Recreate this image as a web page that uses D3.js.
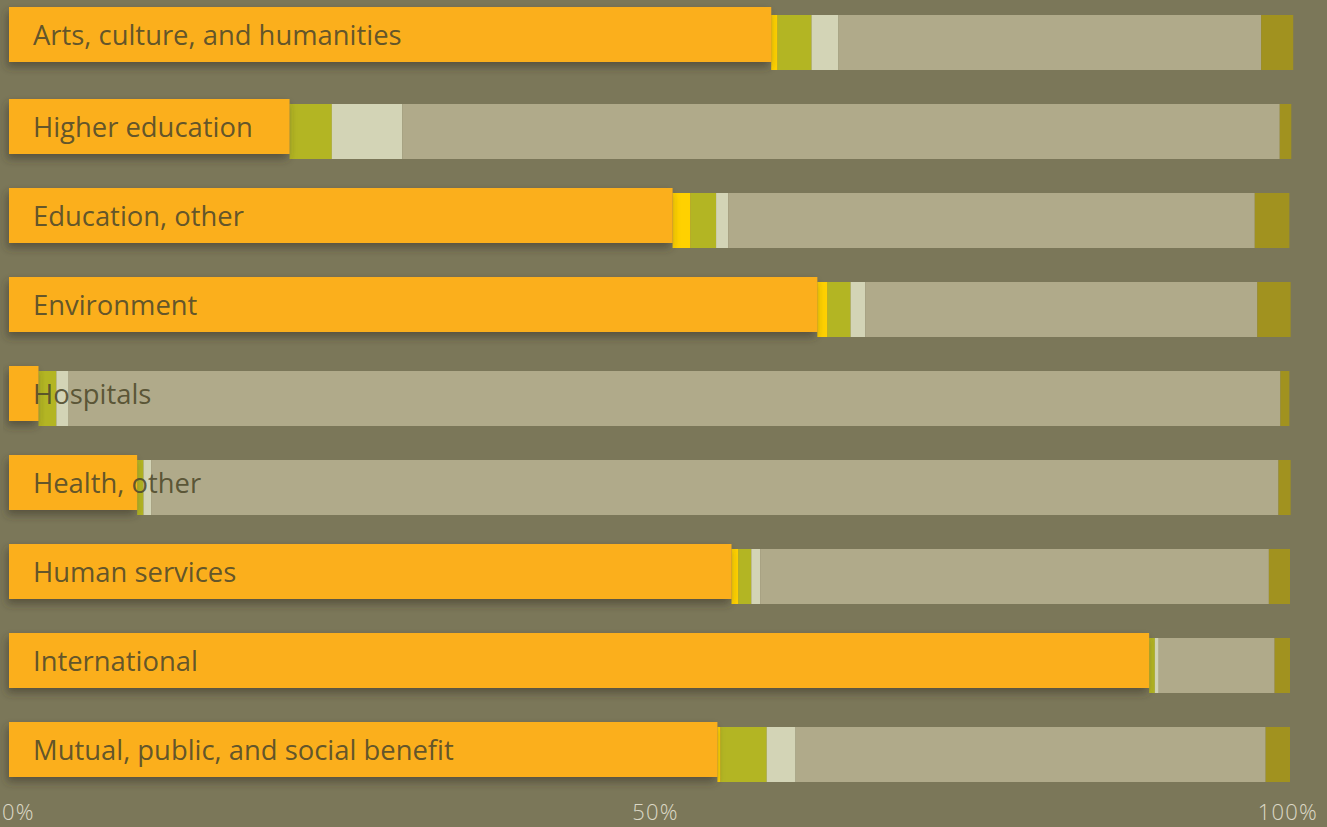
<!DOCTYPE html>
<html><head><meta charset="utf-8">
<script src="https://cdn.jsdelivr.net/npm/d3@7"></script>
<style>
html,body{margin:0;padding:0;background:#7b7759;}
svg{display:block;}
</style></head>
<body>
<svg id="chart" width="1327" height="827"></svg>
<script>
const categories = ["Arts, culture, and humanities","Higher education","Education, other","Environment","Hospitals","Health, other","Human services","International","Mutual, public, and social benefit"];
const seriesNames = ["s1","s2","s3","s4","s5","s6"];
const s1 = [59.5, 21.9, 51.8, 63.1, 2.3, 10.0, 56.4, 89.0, 55.3];
const s2 = [0.5, 0.0, 1.4, 0.8, 0.0, 0.0, 0.55, 0.0, 0.25];
const s3 = [2.65, 3.3, 2.0, 1.8, 1.4, 0.5, 1.0, 0.45, 3.6];
const s4 = [2.1, 5.5, 0.95, 1.15, 0.95, 0.6, 0.7, 0.3, 2.25];
const s5 = [33.0, 68.5, 41.1, 30.6, 94.6, 88.0, 39.7, 9.05, 36.7];
const s6 = [2.5, 0.9, 2.7, 2.6, 0.7, 0.95, 1.65, 1.2, 1.9];
const tickValues = [0, 50, 100];
const tickLabels = ["0%", "50%", "100%"];
const colors = ["#fbaf1a", "#ffd100", "#b3b523", "#d3d4b6", "#b0aa8a", "#a1921f"];

const series = [s1,s2,s3,s4,s5,s6];
const data = categories.map((c,i)=>{const o={cat:c}; seriesNames.forEach((s,j)=>o[s]=series[j][i]); return o;});

const svg = d3.select("#chart");
const x = d3.scaleLinear().domain([0,100]).range([9,1290]);
const y = d3.scaleBand().domain(categories).range([15,782]).paddingInner(34/89).paddingOuter(0);

const defs = svg.append("defs");
const f = defs.append("filter").attr("id","shadow").attr("x","-20%").attr("y","-30%").attr("width","140%").attr("height","180%");
f.append("feDropShadow").attr("dx",-2).attr("dy",5).attr("stdDeviation",4).attr("flood-color","#3a3526").attr("flood-opacity",0.55);

const stacked = d3.stack().keys(seriesNames)(data);

const g = svg.append("g");
stacked.slice(1).forEach((layer,k)=>{
  g.selectAll(null).data(layer).enter().append("rect")
    .attr("x", d=>x(d[0]))
    .attr("y", d=>y(d.data.cat))
    .attr("width", d=>Math.max(0,x(d[1])-x(d[0])))
    .attr("height", y.bandwidth())
    .attr("fill", colors[k+1]);
});

const offset = (i)=> i===0 ? -8 : -5;
svg.append("g").selectAll("rect").data(stacked[0]).enter().append("rect")
  .attr("x", d=>x(d[0]))
  .attr("y", (d,i)=>y(d.data.cat)+offset(i))
  .attr("width", d=>x(d[1])-x(d[0]))
  .attr("height", y.bandwidth())
  .attr("fill", colors[0])
  .attr("filter","url(#shadow)");

svg.append("g").selectAll("text").data(categories).enter().append("text")
  .attr("x", 33)
  .attr("y", (d,i)=>y(d)+offset(i)+y.bandwidth()/2)
  .attr("dy","0.38em")
  .attr("font-family","'Open Sans', Roboto, sans-serif")
  .attr("font-size",27.4)
  .attr("fill","#4f4a2c")
  .attr("fill-opacity",0.9)
  .text(d=>d);

const anchors = ["start","middle","end"];
const ax = svg.append("g");
tickValues.forEach((v,i)=>{
  const px = i===0 ? x(v)-7 : (i===2 ? x(v)+28 : x(v)+6);
  ax.append("text")
    .attr("x", px)
    .attr("y", 820)
    .attr("text-anchor", anchors[i])
    .attr("font-family","'Open Sans', Roboto, sans-serif")
    .attr("font-weight",300)
    .attr("font-size",22)
    .attr("letter-spacing",1.2)
    .attr("fill","#dcd8c6")
    .text(tickLabels[i]);
});
</script>
</body></html>
